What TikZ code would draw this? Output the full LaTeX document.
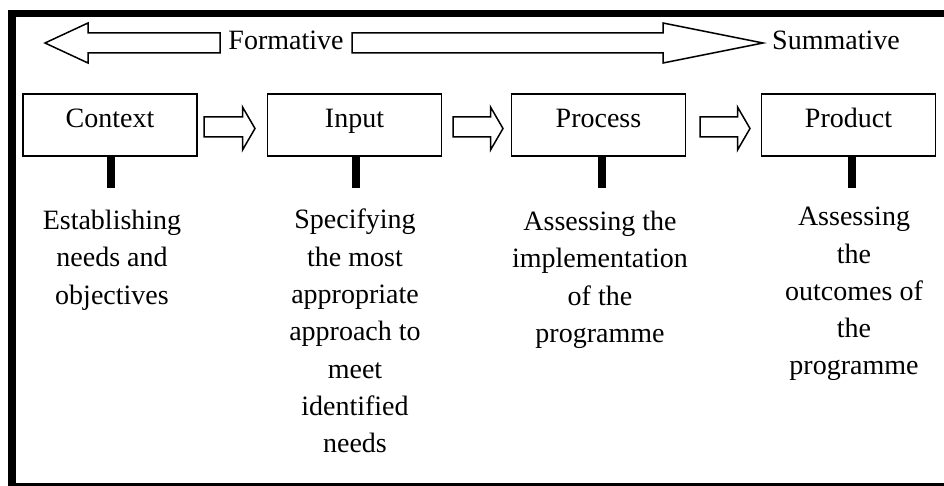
\documentclass[tikz,border=0pt]{standalone}
\usepackage{fontspec}
\setmainfont{Liberation Serif}
% flat block arrow between two stages: start x, tip x
\newcommand\stagearrow[2]{%
  \draw[blockarrow] (#1,117) -- ({#2-12.5},117) -- ({#2-12.5},107) -- (#2,128.5)
    -- ({#2-12.5},150) -- ({#2-12.5},137) -- (#1,137) -- cycle;}
\begin{document}
\begin{tikzpicture}[x=1pt,y=-1pt,
  every node/.style={font=\fontsize{28}{37.3}\selectfont, inner sep=0pt},
  stage/.style={draw, line width=1.6pt, minimum width=174pt,
    text height=34pt, text depth=28pt, anchor=base},
  note/.style={align=center, anchor=north},
  stem/.style={line width=8pt},
  blockarrow/.style={draw, line width=1.5pt, fill=white, line join=miter},
  frame/.style={line width=7.5pt}]
\useasboundingbox (0,0) rectangle (944,486);
\fill[white] (0,0) rectangle (944,486);
\draw[frame] (12,13.5) rectangle (960,487);

% formative / summative double arrow
\draw[blockarrow] (45,43) -- (88,23) -- (88,33) -- (220,33) -- (220,53)
  -- (88,53) -- (88,63) -- cycle;
\node[anchor=base] (form) at (286,50) {Formative};
\draw[blockarrow] (352,33) -- (663,33) -- (663,23) -- (763,43) -- (663,63)
  -- (663,53) -- (352,53) -- cycle;
\node[anchor=base] (summ) at (836,50) {Summative};

% the four stages
\node[stage] (ctx)  at (110,128)   {Context};
\node[stage] (inp)  at (354.5,128) {Input};
\node[stage] (proc) at (598.5,128) {Process};
\node[stage] (prod) at (848.5,128) {Product};

\stagearrow{204}{255}
\stagearrow{453}{503}
\stagearrow{700}{750}

% stems below the stages
\coordinate (ctxs)  at (111,188);
\coordinate (inps)  at (356,188);
\coordinate (procs) at (602,188);
\coordinate (prods) at (852,188);
\draw[stem] (ctxs |- ctx.south) -- (ctxs);
\draw[stem] (inps |- inp.south) -- (inps);
\draw[stem] (procs |- proc.south) -- (procs);
\draw[stem] (prods |- prod.south) -- (prods);

% descriptions
\node[note] (ctxd)  at (112,210) {Establishing\\needs and\\objectives};
\node[note] (inpd)  at (355,209) {Specifying\\the most\\appropriate\\approach to\\meet\\identified\\needs};
\node[note] (procd) at (600,211) {Assessing the\\implementation\\of the\\programme};
\node[note] (prodd) at (854,207) {Assessing\\the\\outcomes of\\the\\programme};
\end{tikzpicture}
\end{document}
